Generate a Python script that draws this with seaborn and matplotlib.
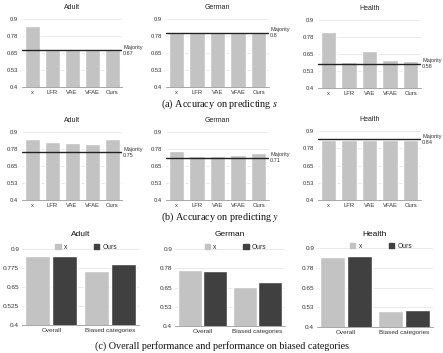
"""
Три ряда столбчатых диаграмм: точность на s, на y и на смещённых категориях.
"""

import matplotlib
matplotlib.use("Agg")
import matplotlib.pyplot as plt
import seaborn as sns
import pandas as pd
from matplotlib.patches import Patch

sns.set_theme(style="white")
plt.rcParams["font.family"] = ["Liberation Sans", "DejaVu Sans"]
plt.rcParams["mathtext.fontset"] = "stix"

datasets = ["Adult", "German", "Health"]
methods = ["x", "LFR", "VAE", "VFAE", "Ours"]

# (a) точность предсказания s
acc_s = {
    "Adult": [0.85, 0.67, 0.67, 0.67, 0.67],
    "German": [0.80, 0.80, 0.80, 0.80, 0.80],
    "Health": [0.81, 0.59, 0.67, 0.605, 0.598],
}
majority_s = {"Adult": 0.67, "German": 0.80, "Health": 0.58}

# (b) точность предсказания y
acc_y = {
    "Adult": [0.849, 0.824, 0.822, 0.814, 0.849],
    "German": [0.759, 0.727, 0.727, 0.731, 0.747],
    "Health": [0.837, 0.837, 0.837, 0.837, 0.837],
}
majority_y = {"Adult": 0.75, "German": 0.71, "Health": 0.84}

# (c) общая точность и на смещённых категориях
groups = ["Overall", "Biased categories"]
perf_x = {"Adult": [0.854, 0.755], "German": [0.763, 0.654], "Health": [0.841, 0.501]}
perf_ours = {"Adult": [0.854, 0.801], "German": [0.754, 0.683], "Health": [0.850, 0.505]}

ticks = [0.4, 0.525, 0.65, 0.775, 0.9]
tick_labels_short = ["0.4", "0.53", "0.65", "0.78", "0.9"]
tick_labels_c = {
    "Adult": ["0.4", "0.525", "0.65", "0.775", "0.9"],
    "German": ["0.4", "0.53", "0.65", "0.78", "0.9"],
    "Health": ["0.4", "0.53", "0.65", "0.78", "0.9"],
}

LIGHT = "#c3c3c3"
DARK = "#404040"
W, H = 443, 353

fig = plt.figure(figsize=(W / 100, H / 100), dpi=100)


def add_ax(left, top, right, bottom):
    return fig.add_axes([left / W, 1 - bottom / H, (right - left) / W, (bottom - top) / H])


def style_ax(ax, labels, fs, pad):
    ax.set_ylim(0.4, 0.9)
    ax.set_yticks(ticks)
    ax.set_yticklabels(labels, fontsize=fs, color="#333333")
    ax.tick_params(axis="x", labelsize=fs, colors="#333333", pad=2, length=0)
    ax.tick_params(axis="y", pad=pad, length=0)
    ax.grid(axis="y", color="#e6e6e6", linewidth=0.6)
    ax.set_axisbelow(True)
    for side in ["top", "right", "left"]:
        ax.spines[side].set_visible(False)
    ax.spines["bottom"].set_color("#999999")
    ax.spines["bottom"].set_linewidth(0.6)
    ax.set_xlabel("")
    ax.set_ylabel("")


def bar_panel(ax, name, values, majority):
    df = pd.DataFrame({"method": methods, "acc": values})
    sns.barplot(data=df, x="method", y="acc", color=LIGHT, saturation=1,
                width=0.75, ax=ax)
    style_ax(ax, tick_labels_short, 4.2, 3)
    ax.set_xlim(-0.5, 4.5)
    ax.axhline(majority, color="#222222", linewidth=1.0)
    ax.text(1.01, majority, f"Majority\n{majority:g}",
            transform=ax.get_yaxis_transform(), fontsize=4.0, va="center",
            ha="left", color="#333333", linespacing=1.3)
    ax.set_title(name, fontsize=5, pad=7, color="#222222")


# ряд (a)
boxes_a = [(22, 19, 122, 87), (166, 19, 269, 87), (318, 20, 421, 88)]
for name, box in zip(datasets, boxes_a):
    bar_panel(add_ax(*box), name, acc_s[name], majority_s[name])

# ряд (b)
boxes_b = [(22, 132, 122, 200), (166, 132, 269, 200), (318, 131, 421, 200)]
for name, box in zip(datasets, boxes_b):
    bar_panel(add_ax(*box), name, acc_y[name], majority_y[name])

# ряд (c)
boxes_c = [(22, 249, 139, 325), (175, 249, 285, 326), (317, 248, 433, 327)]
for name, box in zip(datasets, boxes_c):
    ax = add_ax(*box)
    df = pd.DataFrame({
        "group": groups * 2,
        "acc": perf_x[name] + perf_ours[name],
        "model": ["x"] * 2 + ["Ours"] * 2,
    })
    sns.barplot(data=df, x="group", y="acc", hue="model",
                palette={"x": LIGHT, "Ours": DARK}, saturation=1,
                width=0.92, gap=0.06, ax=ax)
    style_ax(ax, tick_labels_c[name], 4.6, 2)
    ax.set_xlim(-0.5, 1.5)
    ax.legend(handles=[Patch(color=LIGHT, label="x"), Patch(color=DARK, label="Ours")],
              loc="lower center", bbox_to_anchor=(0.55, 0.98), ncol=2, frameon=False,
              fontsize=4.8, handlelength=0.8, handleheight=0.8, handletextpad=0.5,
              columnspacing=4, borderaxespad=0, borderpad=0)
    ax.set_title(name, fontsize=6, pad=9, color="#111111")

# подписи
cap = dict(ha="center", va="center", fontsize=7.3, family="Liberation Serif", color="#111111")
fig.text(220 / W, 1 - 104 / H, "(a) Accuracy on predicting $s$", **cap)
fig.text(220 / W, 1 - 217 / H, "(b) Accuracy on predicting $y$", **cap)
fig.text(222 / W, 1 - 346 / H, "(c) Overall performance and performance on biased categories", **cap)

fig.savefig("out.png", dpi=100)
plt.close(fig)
